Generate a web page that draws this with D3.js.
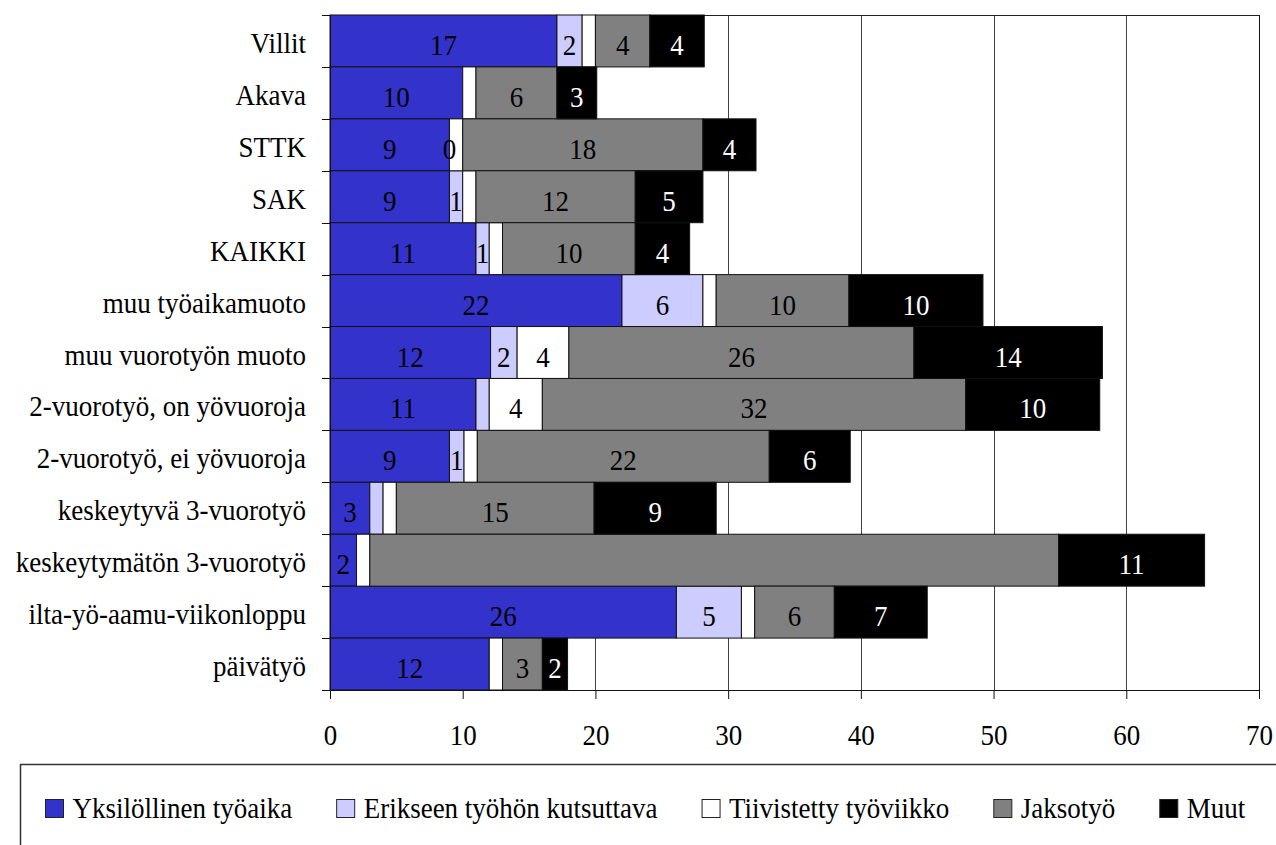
<!DOCTYPE html>
<html>
<head>
<meta charset="utf-8">
<script src="https://cdn.jsdelivr.net/npm/d3@7"></script>
<style>
  body { margin: 0; background: #fff; }
  svg { display: block; }
  svg text { font-family: 'Liberation Serif', 'DejaVu Serif', serif; }
</style>
</head>
<body>
<div id="chart"></div>
<script>
// Categories, top to bottom
var categories = ["Villit", "Akava", "STTK", "SAK", "KAIKKI", "muu työaikamuoto",
  "muu vuorotyön muoto", "2-vuorotyö, on yövuoroja", "2-vuorotyö, ei yövuoroja",
  "keskeytyvä 3-vuorotyö", "keskeytymätön 3-vuorotyö", "ilta-yö-aamu-viikonloppu", "päivätyö"];

var seriesNames = ["Yksilöllinen työaika", "Erikseen työhön kutsuttava",
  "Tiivistetty työviikko", "Jaksotyö", "Muut"];

// Series values (%)
var yksilollinen = [17.1, 10, 9, 9, 11, 22, 12.1, 11, 9, 3, 2, 26.1, 12];
var erikseen     = [1.9, null, 0, 1, 1, 6.1, 2, 1, 1.1, 1, null, 4.9, null];
var tiivistetty  = [1, 1, 1, 1, 1, 1, 3.9, 4, 1, 1, 1, 1, 1];
var jaksotyo     = [4.1, 6.1, 18.1, 12, 10, 10, 26, 31.9, 22, 14.9, 51.9, 6, 3];
var muut         = [4.1, 3, 4, 5.1, 4.1, 10.1, 14.2, 10.1, 6.1, 9.2, 11, 7, 1.9];

var xTicks = [0, 10, 20, 30, 40, 50, 60, 70];

// Data labels that are not shown in the original
var hideErikseen = ["2-vuorotyö, on yövuoroja", "keskeytyvä 3-vuorotyö"];
var showTiivistetty = ["muu vuorotyön muoto", "2-vuorotyö, on yövuoroja"];
var hideJakso = ["keskeytymätön 3-vuorotyö"];

var colors = ["#3333cc", "#ccccff", "#ffffff", "#808080", "#000000"];
var labelColors = ["#000", "#000", "#000", "#000", "#fff"];
var seriesValues = [yksilollinen, erikseen, tiivistetty, jaksotyo, muut];

var chartW = 1276, chartH = 845;
var plotLeft = 330, plotRight = 1259, plotTop = 15, plotBottom = 690;
var fontSize = 27, stretch = 1.1;
var serif = "'Liberation Serif', 'DejaVu Serif', serif";

var svg = d3.select('#chart').append('svg')
  .attr('width', chartW)
  .attr('height', chartH)
  .attr('font-family', serif);

var x = d3.scaleLinear().domain([0, 70]).range([plotLeft, plotRight]);
var y = d3.scaleBand().domain(categories).range([plotTop, plotBottom]).padding(0);

// Text helper: the source font is slightly taller than wide
function place(sel, fx, fy) {
  sel.attr('transform', function(d, i) {
    return 'translate(' + fx(d, i) + ',' + fy(d, i) + ') scale(1,' + stretch + ')';
  });
}

// Gridlines and plot border
svg.append('g')
  .selectAll('line')
  .data(xTicks.slice(1))
  .enter()
  .append('line')
  .attr('x1', function(d) { return Math.round(x(d)) + 0.5; })
  .attr('x2', function(d) { return Math.round(x(d)) + 0.5; })
  .attr('y1', plotTop)
  .attr('y2', plotBottom)
  .attr('stroke', function(d) { return d === 70 ? '#111' : '#444'; })
  .attr('stroke-width', 1);

svg.append('line')
  .attr('x1', plotLeft).attr('x2', Math.round(x(70)) + 0.5)
  .attr('y1', plotTop + 0.5).attr('y2', plotTop + 0.5)
  .attr('stroke', '#222');

// Stacked bars
var rows = categories.map(function(c, i) {
  var r = { cat: c };
  seriesNames.forEach(function(s, k) { r[s] = seriesValues[k][i]; });
  return r;
});

var stacked = d3.stack()
  .keys(seriesNames)
  .value(function(d, key) { return d[key] == null ? 0 : d[key]; })(rows);

var layers = svg.append('g')
  .selectAll('g')
  .data(stacked)
  .enter()
  .append('g')
  .attr('fill', function(d, i) { return colors[i]; });

layers.selectAll('rect')
  .data(function(d) { return d.filter(function(p) { return p.data[d.key] != null; }); })
  .enter()
  .append('rect')
  .attr('x', function(d) { return x(d[0]); })
  .attr('y', function(d) { return y(d.data.cat); })
  .attr('width', function(d) { return x(d[1]) - x(d[0]); })
  .attr('height', y.bandwidth())
  .attr('stroke', '#111')
  .attr('stroke-width', 1);

// Data labels
function labelShown(key, cat) {
  if (key === seriesNames[1]) return hideErikseen.indexOf(cat) < 0;
  if (key === seriesNames[2]) return showTiivistetty.indexOf(cat) >= 0;
  if (key === seriesNames[3]) return hideJakso.indexOf(cat) < 0;
  return true;
}

stacked.forEach(function(layer, k) {
  var pts = layer.filter(function(p) {
    return p.data[layer.key] != null && labelShown(layer.key, p.data.cat);
  });
  svg.append('g')
    .selectAll('text')
    .data(pts)
    .enter()
    .append('text')
    .attr('text-anchor', 'middle')
    .attr('font-size', fontSize)
    .attr('fill', labelColors[k])
    .text(function(d) { return Math.round(d.data[layer.key]); })
    .call(place,
      function(d) { return x((d[0] + d[1]) / 2); },
      function(d) { return y(d.data.cat) + y.bandwidth() / 2 + 14; });
});

// X axis
var xAxis = svg.append('g')
  .attr('transform', 'translate(0,' + plotBottom + ')')
  .call(d3.axisBottom(x).tickValues(xTicks).tickSize(9).tickSizeOuter(0));
xAxis.attr('font-family', serif).attr('font-size', null);
xAxis.select('.domain').attr('stroke', '#111');
xAxis.selectAll('.tick line').attr('stroke', '#111');
xAxis.selectAll('.tick text')
  .attr('y', null)
  .attr('dy', null)
  .attr('font-size', fontSize)
  .attr('fill', '#000')
  .attr('transform', 'translate(0,55) scale(1,' + stretch + ')');

// Y axis with ticks on the band boundaries
svg.append('line')
  .attr('x1', plotLeft + 0.5).attr('x2', plotLeft + 0.5)
  .attr('y1', plotTop).attr('y2', plotBottom)
  .attr('stroke', '#111');

var bounds = categories.map(function(c) { return y(c); }).concat([plotBottom]);
svg.append('g')
  .selectAll('line')
  .data(bounds)
  .enter()
  .append('line')
  .attr('x1', plotLeft - 8).attr('x2', plotLeft)
  .attr('y1', function(d) { return Math.round(d) + 0.5; })
  .attr('y2', function(d) { return Math.round(d) + 0.5; })
  .attr('stroke', '#111');

var yAxis = svg.append('g')
  .attr('transform', 'translate(' + plotLeft + ',0)')
  .call(d3.axisLeft(y).tickSize(0).tickPadding(24));
yAxis.attr('font-family', serif).attr('font-size', null);
yAxis.select('.domain').remove();
yAxis.selectAll('.tick text')
  .attr('x', null)
  .attr('dy', null)
  .attr('font-size', fontSize)
  .attr('fill', '#000')
  .attr('transform', 'translate(-24,12) scale(1,' + stretch + ')');

// Legend
svg.append('rect')
  .attr('x', 20.5).attr('y', 764.5)
  .attr('width', 1300).attr('height', 200)
  .attr('fill', 'none')
  .attr('stroke', '#333')
  .attr('stroke-width', 1.5);

var legend = svg.append('g');
var lx = 45;
seriesNames.forEach(function(name, i) {
  legend.append('rect')
    .attr('x', lx + 0.5).attr('y', 799.5)
    .attr('width', 18).attr('height', 18)
    .attr('fill', colors[i])
    .attr('stroke', '#222');
  var t = legend.append('text')
    .attr('font-size', fontSize)
    .attr('font-family', serif)
    .attr('transform', 'translate(' + (lx + 27.5) + ',818) scale(1,' + stretch + ')')
    .text(name);
  lx += 27.5 + t.node().getComputedTextLength() + 44;
});
</script>
</body>
</html>
